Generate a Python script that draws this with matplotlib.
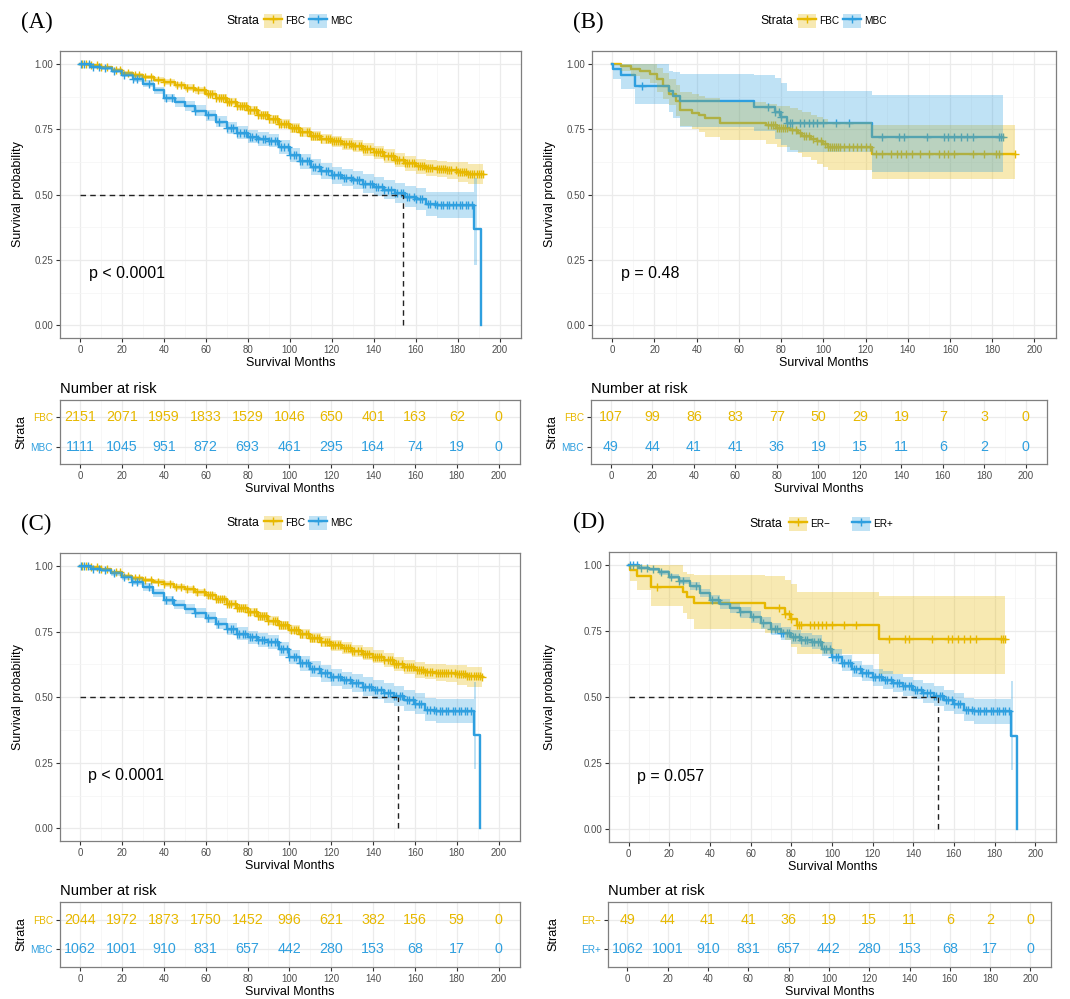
import numpy as np
import matplotlib
matplotlib.use('Agg')
import matplotlib.pyplot as plt
from matplotlib.patches import Patch
from matplotlib.lines import Line2D

plt.rcParams['font.family'] = ['Liberation Sans', 'DejaVu Sans']

YEL = '#E7B800'
BLU = '#2E9FDF'
W, H = 1070, 999

# ---- KM curves (step values start at each time) ----
# panel A, FBC
fa_t = [0, 5, 10, 15, 20, 25, 30, 35, 40, 45, 50, 55, 60, 65, 70, 75, 80, 85, 90, 95,
        100, 105, 110, 115, 120, 125, 130, 135, 140, 145, 150, 155, 160, 165, 170, 175, 180, 185, 192]
fa_s = [1.000, 0.995, 0.990, 0.978, 0.967, 0.958, 0.950, 0.940, 0.931, 0.920,
        0.910, 0.899, 0.887, 0.872, 0.856, 0.840, 0.823, 0.806, 0.789, 0.771,
        0.755, 0.740, 0.724, 0.714, 0.705, 0.695, 0.685, 0.674, 0.663, 0.648,
        0.634, 0.620, 0.609, 0.603, 0.598, 0.593, 0.588, 0.581, 0.580]
fa_lo = [1.000, 0.991, 0.985, 0.972, 0.960, 0.950, 0.941, 0.930, 0.920, 0.909,
         0.898, 0.886, 0.874, 0.858, 0.842, 0.825, 0.807, 0.790, 0.772, 0.754,
         0.737, 0.721, 0.705, 0.694, 0.684, 0.673, 0.662, 0.650, 0.638, 0.622,
         0.607, 0.592, 0.580, 0.573, 0.567, 0.560, 0.547, 0.542, 0.541]
fa_hi = [1.000, 0.998, 0.994, 0.984, 0.974, 0.966, 0.958, 0.950, 0.942, 0.931,
         0.922, 0.912, 0.900, 0.886, 0.870, 0.855, 0.839, 0.822, 0.806, 0.788,
         0.773, 0.759, 0.743, 0.734, 0.726, 0.717, 0.708, 0.698, 0.688, 0.674,
         0.661, 0.648, 0.638, 0.633, 0.629, 0.626, 0.624, 0.618, 0.618]
fa_cens = [1, 3, 5, 8, 10, 13, 17, 19, 23, 26, 28, 31, 34, 37, 40, 43, 46, 48, 51, 54, 56, 59,
           61, 62, 63, 65, 66, 67, 68, 69, 70, 71, 72, 74, 75, 76, 77, 78, 79, 80, 81, 83, 84,
           85, 86, 87, 88, 89, 90, 92, 93, 94, 95, 96, 97, 98, 99, 101, 102, 103, 104, 105,
           106, 108, 109, 110, 111, 112, 113, 114, 115, 117, 118, 119, 120, 121, 122, 123,
           124, 126, 127, 128, 129, 130, 131, 133, 134, 135, 136, 137, 138, 140, 141, 142,
           143, 144, 145, 147, 148, 149, 150, 151, 152, 154, 155, 156, 157, 158, 159, 161,
           162, 163, 164, 165, 166, 167, 168, 170, 171, 172, 173, 174, 175, 176, 177, 179,
           180, 181, 182, 183, 184, 185, 186, 187, 188, 189, 190, 191, 192]

# panel A, MBC
ma_t = [0, 5, 10, 15, 20, 25, 30, 35, 40, 45, 50, 55, 60, 65, 70, 75, 80, 85, 90, 95,
        100, 105, 110, 115, 120, 125, 130, 135, 140, 145, 150, 155, 160, 165, 170, 188, 191]
ma_ci_t = ma_t[:-1] + [189]
ma_s = [1.000, 0.990, 0.984, 0.974, 0.960, 0.944, 0.925, 0.899, 0.870, 0.855,
        0.839, 0.822, 0.804, 0.780, 0.756, 0.738, 0.722, 0.713, 0.707, 0.683,
        0.652, 0.628, 0.607, 0.590, 0.575, 0.565, 0.555, 0.543, 0.531, 0.519,
        0.508, 0.493, 0.484, 0.465, 0.460, 0.368, 0.000]
ma_lo = [1.000, 0.984, 0.977, 0.965, 0.949, 0.931, 0.911, 0.884, 0.853, 0.837,
         0.820, 0.802, 0.783, 0.758, 0.733, 0.714, 0.697, 0.687, 0.681, 0.656,
         0.624, 0.599, 0.577, 0.559, 0.543, 0.532, 0.521, 0.508, 0.495, 0.482,
         0.470, 0.453, 0.443, 0.420, 0.410, 0.232, 0.232]
ma_hi = [1.000, 0.996, 0.991, 0.983, 0.971, 0.957, 0.939, 0.914, 0.887, 0.873,
         0.858, 0.842, 0.825, 0.802, 0.779, 0.762, 0.747, 0.739, 0.733, 0.710,
         0.680, 0.657, 0.637, 0.621, 0.607, 0.598, 0.589, 0.578, 0.567, 0.556,
         0.546, 0.533, 0.525, 0.510, 0.509, 0.565, 0.565]
ma_cens = [0.5, 2, 4, 6, 9, 12, 16, 21, 25, 27, 33, 41, 44, 55, 61, 66, 70, 72, 73, 75, 76,
           78, 79, 81, 82, 84, 85, 87, 88, 90, 91, 93, 94, 96, 97, 99, 100, 102, 103, 105,
           106, 108, 109, 111, 112, 114, 115, 117, 118, 120, 121, 123, 124, 126, 127, 129,
           130, 132, 133, 135, 136, 138, 139, 141, 142, 144, 145, 147, 148, 150, 151, 153,
           154, 156, 157, 159, 160, 162, 163, 166, 167, 169, 170, 172, 173, 175, 176, 178,
           179, 181, 182, 184, 185, 187]

# panel B, FBC (n=107)
fb_t = [0, 4, 9, 13, 18, 21, 24, 27, 30, 32, 38, 41, 44, 51, 73, 78, 84, 88, 90, 94,
        97, 100, 102, 123, 191]
fb_s = [1.000, 0.991, 0.981, 0.972, 0.962, 0.943, 0.915, 0.887, 0.858, 0.823,
        0.813, 0.804, 0.794, 0.776, 0.766, 0.757, 0.747, 0.737, 0.726, 0.715,
        0.704, 0.694, 0.683, 0.656, 0.656]
fb_lo = [1.000, 0.973, 0.955, 0.941, 0.927, 0.895, 0.865, 0.842, 0.800, 0.762,
         0.752, 0.740, 0.722, 0.708, 0.696, 0.683, 0.672, 0.660, 0.645, 0.632,
         0.618, 0.607, 0.595, 0.562, 0.562]
fb_hi = [1.000, 1.000, 1.000, 1.000, 0.999, 0.985, 0.965, 0.944, 0.920, 0.893,
         0.885, 0.878, 0.871, 0.856, 0.848, 0.840, 0.832, 0.824, 0.815, 0.806,
         0.797, 0.788, 0.780, 0.766, 0.766]
fb_cens = [74, 75, 76, 77, 78, 79, 80, 81, 82, 83, 85, 87, 89, 91, 92, 93, 95, 97, 99, 101,
           102, 103, 104, 105, 106, 107, 108, 110, 112, 114, 116, 118, 120, 122, 125, 128,
           132, 135, 137, 139, 142, 146, 150, 155, 157, 159, 162, 171, 176, 182, 183, 191]

# panel B, MBC (n=49) -- same cohort as ER- in panel D
mb_t = [0, 0.5, 4, 11, 27, 29, 32, 67, 77, 80, 83, 123, 185]
mb_s = [1.000, 0.980, 0.959, 0.918, 0.898, 0.878, 0.857, 0.837, 0.816, 0.796, 0.775, 0.720, 0.720]
mb_lo = [1.000, 0.941, 0.905, 0.846, 0.818, 0.795, 0.760, 0.743, 0.715, 0.689, 0.663, 0.587, 0.587]
mb_hi = [1.000, 1.000, 1.000, 1.000, 0.975, 0.968, 0.962, 0.960, 0.945, 0.928, 0.897, 0.883, 0.883]
mb_cens = [14, 74, 77, 79, 80, 83, 84, 85, 89, 91, 93, 95, 97, 100, 106, 112, 128, 136, 138,
           149, 157, 159, 162, 165, 168, 171, 183, 184, 185]

# panel C, FBC
fc_t = fa_t
fc_s = [1.000, 0.995, 0.990, 0.977, 0.964, 0.956, 0.948, 0.940, 0.932, 0.921,
        0.911, 0.900, 0.889, 0.873, 0.857, 0.841, 0.825, 0.808, 0.791, 0.774,
        0.758, 0.743, 0.727, 0.712, 0.699, 0.688, 0.677, 0.666, 0.655, 0.641,
        0.628, 0.615, 0.604, 0.598, 0.594, 0.591, 0.587, 0.580, 0.578]
fc_lo = [1.000, 0.991, 0.985, 0.971, 0.957, 0.948, 0.939, 0.930, 0.921, 0.910,
         0.899, 0.887, 0.876, 0.859, 0.843, 0.826, 0.809, 0.792, 0.774, 0.757,
         0.740, 0.724, 0.708, 0.692, 0.678, 0.666, 0.654, 0.642, 0.630, 0.615,
         0.601, 0.587, 0.575, 0.568, 0.563, 0.558, 0.546, 0.541, 0.539]
fc_hi = [1.000, 0.998, 0.994, 0.983, 0.971, 0.964, 0.956, 0.950, 0.943, 0.932,
         0.923, 0.913, 0.902, 0.887, 0.871, 0.856, 0.841, 0.824, 0.808, 0.791,
         0.776, 0.762, 0.746, 0.732, 0.720, 0.710, 0.700, 0.690, 0.680, 0.667,
         0.655, 0.643, 0.633, 0.628, 0.625, 0.624, 0.623, 0.617, 0.616]
fc_cens = fa_cens

# panel C, MBC (n=1062) -- same cohort as ER+ in panel D
mc_t = ma_t
mc_ci_t = ma_ci_t
mc_s = [1.000, 0.990, 0.984, 0.973, 0.957, 0.941, 0.921, 0.896, 0.869, 0.853,
        0.838, 0.821, 0.804, 0.781, 0.759, 0.742, 0.728, 0.718, 0.710, 0.684,
        0.653, 0.630, 0.608, 0.591, 0.576, 0.565, 0.553, 0.541, 0.529, 0.517,
        0.505, 0.489, 0.476, 0.453, 0.447, 0.355, 0.000]
mc_lo = [1.000, 0.984, 0.977, 0.964, 0.946, 0.928, 0.907, 0.881, 0.852, 0.835,
         0.819, 0.801, 0.783, 0.759, 0.736, 0.718, 0.703, 0.692, 0.684, 0.657,
         0.625, 0.601, 0.578, 0.560, 0.544, 0.532, 0.519, 0.506, 0.493, 0.480,
         0.467, 0.449, 0.435, 0.410, 0.400, 0.225, 0.225]
mc_hi = [1.000, 0.996, 0.991, 0.982, 0.968, 0.954, 0.935, 0.911, 0.886, 0.871,
         0.857, 0.841, 0.825, 0.803, 0.782, 0.766, 0.753, 0.744, 0.736, 0.711,
         0.681, 0.659, 0.638, 0.622, 0.608, 0.598, 0.587, 0.576, 0.565, 0.554,
         0.543, 0.529, 0.517, 0.497, 0.495, 0.560, 0.560]
mc_cens = ma_cens

# ---- number at risk ----
risk_months = [0, 20, 40, 60, 80, 100, 120, 140, 160, 180, 200]
risk_a_fbc = [2151, 2071, 1959, 1833, 1529, 1046, 650, 401, 163, 62, 0]
risk_a_mbc = [1111, 1045, 951, 872, 693, 461, 295, 164, 74, 19, 0]
risk_b_fbc = [107, 99, 86, 83, 77, 50, 29, 19, 7, 3, 0]
risk_b_mbc = [49, 44, 41, 41, 36, 19, 15, 11, 6, 2, 0]
risk_c_fbc = [2044, 1972, 1873, 1750, 1452, 996, 621, 382, 156, 59, 0]
risk_c_mbc = [1062, 1001, 910, 831, 657, 442, 280, 153, 68, 17, 0]
risk_d_erneg = [49, 44, 41, 41, 36, 19, 15, 11, 6, 2, 0]
risk_d_erpos = [1062, 1001, 910, 831, 657, 442, 280, 153, 68, 17, 0]

fig = plt.figure(figsize=(W / 100, H / 100), dpi=100)


def rect(l, t, r, b):
    return [l / W, 1 - b / H, (r - l) / W, (b - t) / H]


def base_style(ax):
    ax.set_xlim(-9.6, 210.2)
    ax.set_xticks(risk_months)
    ax.set_xticks([10, 30, 50, 70, 90, 110, 130, 150, 170, 190], minor=True)
    ax.grid(which='major', color='#EBEBEB', lw=0.9)
    ax.grid(which='minor', color='#F4F4F4', lw=0.5)
    ax.set_axisbelow(True)
    for sp in ax.spines.values():
        sp.set_color('#7F7F7F')
        sp.set_linewidth(0.9)
    ax.tick_params(which='major', direction='out', length=3, width=0.8, color='#333333',
                   labelsize=7, labelcolor='#4D4D4D', pad=2)
    ax.tick_params(which='minor', length=0)


def km(ax, t, s, lo, hi, ci_t, cens, color):
    ax.step(t, s, where='post', color=color, lw=1.7, zorder=3)
    idx = np.searchsorted(t, cens, side='right') - 1
    ax.plot(cens, np.asarray(s)[idx], ls='none', marker='+', ms=6, mew=1, color=color, zorder=3)
    ax.fill_between(ci_t, lo, hi, step='post', color=color, alpha=0.3, lw=0, zorder=4)


def main_panel(box, ylab_px, curves, ptext, median=None):
    l, t, r, b = box
    ax = fig.add_axes(rect(*box))
    base_style(ax)
    ax.set_ylim(-0.048, 1.05)
    ax.set_yticks([0, 0.25, 0.5, 0.75, 1.0])
    ax.set_yticklabels(['0.00', '0.25', '0.50', '0.75', '1.00'])
    ax.set_yticks([0.125, 0.375, 0.625, 0.875], minor=True)
    for c in curves:
        km(ax, *c)
    if median is not None:
        ax.plot([0, median], [0.5, 0.5], color='#222222', lw=1, dashes=(4, 3), zorder=5)
        ax.plot([median, median], [0, 0.5], color='#222222', lw=1, dashes=(4, 3), zorder=5)
    ax.text(4, 0.2, ptext, fontsize=11.5, ha='left', va='center')
    ax.set_ylabel('Survival probability', fontsize=9)
    ax.yaxis.set_label_coords((ylab_px - l) / (r - l), 0.5)
    ax.set_xlabel('Survival Months', fontsize=9)
    ax.xaxis.set_label_coords(0.5, -19 / (b - t))
    return ax


def risk_panel(box, ylab_px, names, top_vals, bot_vals):
    l, t, r, b = box
    ax = fig.add_axes(rect(*box))
    base_style(ax)
    ax.set_ylim(0.4, 2.6)
    ax.set_yticks([1, 2])
    ax.set_yticklabels([names[1], names[0]])
    ax.tick_params(axis='y', labelsize=7.2)
    ax.get_yticklabels()[0].set_color(BLU)
    ax.get_yticklabels()[1].set_color(YEL)
    for m, v1, v2 in zip(risk_months, top_vals, bot_vals):
        ax.text(m, 2, str(v1), color=YEL, fontsize=10.3, ha='center', va='center')
        ax.text(m, 1, str(v2), color=BLU, fontsize=10.3, ha='center', va='center')
    ax.set_title('Number at risk', loc='left', fontsize=10.6, pad=5)
    ax.set_ylabel('Strata', fontsize=9)
    ax.yaxis.set_label_coords((ylab_px - l) / (r - l), 0.5)
    ax.set_xlabel('Survival Months', fontsize=9)
    ax.xaxis.set_label_coords(0.5, -19 / (b - t))
    return ax


def legend(letter, letter_xy, strata_x, keys_x, y, labels, colspace):
    fig.text(letter_xy[0] / W, 1 - letter_xy[1] / H, letter, family='Liberation Serif',
             fontsize=16.5, ha='left', va='center')
    fig.text(strata_x / W, 1 - y / H, 'Strata', fontsize=8.8, ha='left', va='center')
    handles = [(Patch(facecolor=c, alpha=0.3, edgecolor='none'),
                Line2D([], [], color=c, lw=1.7, marker='+', ms=6, mew=1)) for c in (YEL, BLU)]
    fig.legend(handles, labels, loc='center left', bbox_to_anchor=(keys_x / W, 1 - y / H),
               ncol=2, frameon=False, fontsize=7.2, handlelength=1.8, handleheight=1.8,
               handletextpad=0.3, columnspacing=colspace, borderpad=0, borderaxespad=0)


# (A)
main_panel((60, 51, 521, 338), 24,
           [(fa_t, fa_s, fa_lo, fa_hi, fa_t, fa_cens, YEL),
            (ma_t, ma_s, ma_lo, ma_hi, ma_ci_t, ma_cens, BLU)],
           'p < 0.0001', median=154)
risk_panel((60, 400, 520, 464), 27, ['FBC', 'MBC'], risk_a_fbc, risk_a_mbc)
legend('(A)', (21, 22), 226, 264, 21, ['FBC', 'MBC'], 0.4)

# (B)
main_panel((592, 51, 1056, 338), 556,
           [(fb_t, fb_s, fb_lo, fb_hi, fb_t, fb_cens, YEL),
            (mb_t, mb_s, mb_lo, mb_hi, mb_t, mb_cens, BLU)],
           'p = 0.48')
risk_panel((591, 400, 1047, 464), 558, ['FBC', 'MBC'], risk_b_fbc, risk_b_mbc)
legend('(B)', (573, 22), 760, 798, 21, ['FBC', 'MBC'], 0.4)

# (C)
main_panel((60, 553, 520, 841), 24,
           [(fc_t, fc_s, fc_lo, fc_hi, fc_t, fc_cens, YEL),
            (mc_t, mc_s, mc_lo, mc_hi, mc_ci_t, mc_cens, BLU)],
           'p < 0.0001', median=152)
risk_panel((60, 902, 520, 967), 27, ['FBC', 'MBC'], risk_c_fbc, risk_c_mbc)
legend('(C)', (21, 524), 226, 264, 523, ['FBC', 'MBC'], 0.4)

# (D)  ER- is the n=49 cohort, ER+ the n=1062 cohort
main_panel((609, 552, 1056, 842), 556,
           [(mb_t, mb_s, mb_lo, mb_hi, mb_t, mb_cens, YEL),
            (mc_t, mc_s, mc_lo, mc_hi, mc_ci_t, mc_cens, BLU)],
           'p = 0.057', median=152)
risk_panel((608, 902, 1051, 967), 559, ['ER\u2212', 'ER+'], risk_d_erneg, risk_d_erpos)
legend('(D)', (573, 522), 749, 789, 524, ['ER\u2212', 'ER+'], 2.2)

fig.savefig('out.png', dpi=100)
